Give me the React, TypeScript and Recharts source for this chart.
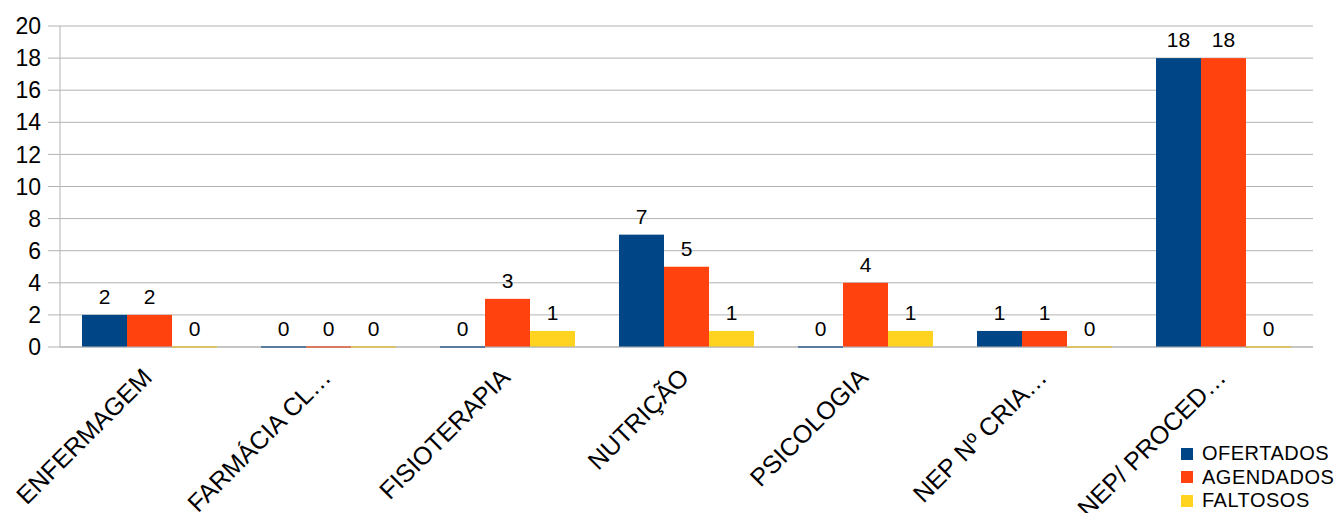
import React from "react";
import {
  BarChart,
  Bar,
  XAxis,
  YAxis,
  CartesianGrid,
  LabelList,
} from "recharts";

// ─── Data ────────────────────────────────────────────────────────────────────

const categories = [
  "ENFERMAGEM",
  "FARMÁCIA CL…",
  "FISIOTERAPIA",
  "NUTRIÇÃO",
  "PSICOLOGIA",
  "NEP Nº CRIA…",
  "NEP/ PROCED…",
];
const ofertados = [2, 0, 0, 7, 0, 1, 18];
const agendados = [2, 0, 3, 5, 4, 1, 18];
const faltosos = [0, 0, 1, 1, 1, 0, 0];
const yTicks = [0, 2, 4, 6, 8, 10, 12, 14, 16, 18, 20];
const boundaryTicks = [0, 1, 2, 3, 4, 5, 6, 7];

const SERIES = [
  { key: "OFERTADOS", color: "#004586" },
  { key: "AGENDADOS", color: "#ff420e" },
  { key: "FALTOSOS", color: "#ffd320" },
];

const data = categories.map((name, i) => ({
  name,
  OFERTADOS: ofertados[i],
  AGENDADOS: agendados[i],
  FALTOSOS: faltosos[i],
}));

const GRID = "#b3b3b3";
const FONT = "'Liberation Sans', Arial, sans-serif";

// ─── Pieces ──────────────────────────────────────────────────────────────────

// zero values still show as a thin line on the baseline
function makeShape(color: string) {
  return (props: any) => {
    const { x, y, width, height } = props;
    if (!height || height < 2) {
      return <rect x={x} y={y - 1} width={width} height={2} fill={color} />;
    }
    return <rect x={x} y={y} width={width} height={height} fill={color} />;
  };
}

function CategoryTick(props: any) {
  const { x, y, payload } = props;
  const ax = x + 4;
  const ay = y + 32;
  return (
    <text
      x={ax}
      y={ay}
      transform={`rotate(-45 ${ax} ${ay})`}
      textAnchor="end"
      fontSize={25}
      fontFamily={FONT}
      fill="#000"
    >
      {payload.value}
    </text>
  );
}

function LegendBox() {
  return (
    <div
      style={{
        position: "absolute",
        left: 1181,
        top: 442,
        fontFamily: FONT,
        fontSize: 20,
        color: "#000",
      }}
    >
      {SERIES.map((s) => (
        <div
          key={s.key}
          style={{ display: "flex", alignItems: "center", height: 23.5 }}
        >
          <span
            style={{
              width: 12,
              height: 12,
              background: s.color,
              marginRight: 9,
              display: "inline-block",
            }}
          />
          <span style={{ letterSpacing: 0.5, whiteSpace: "nowrap" }}>{s.key}</span>
        </div>
      ))}
    </div>
  );
}

// ─── Component ───────────────────────────────────────────────────────────────

export default function App() {
  return (
    <div
      style={{
        position: "absolute",
        left: 0,
        top: 0,
        width: 1334,
        height: 513,
        background: "#fff",
        overflow: "hidden",
      }}
    >
      <BarChart
        width={1334}
        height={513}
        data={data}
        margin={{ top: 26, right: 21, left: 0, bottom: 0 }}
        barCategoryGap={22}
        barGap={0}
      >
        <CartesianGrid horizontal vertical={false} stroke={GRID} />
        <XAxis
          xAxisId="bounds"
          type="number"
          domain={[0, 7]}
          ticks={boundaryTicks}
          allowDataOverflow
          tick={false}
          tickSize={10}
          tickLine={{ stroke: GRID }}
          axisLine={false}
          height={0}
        />
        <XAxis
          dataKey="name"
          interval={0}
          tickLine={false}
          tickSize={0}
          tickMargin={0}
          axisLine={{ stroke: GRID }}
          height={166}
          tick={<CategoryTick />}
        />
        <YAxis
          domain={[0, 20]}
          ticks={yTicks}
          interval={0}
          width={60}
          tickSize={12}
          tickMargin={7}
          tickLine={{ stroke: GRID }}
          axisLine={{ stroke: GRID }}
          tick={{ fontSize: 23, fontFamily: FONT, fill: "#000" }}
        />
        <YAxis
          yAxisId="right"
          orientation="right"
          domain={[0, 20]}
          width={0}
          tick={false}
          tickLine={false}
          axisLine={{ stroke: GRID }}
        />
        {SERIES.map((s) => (
          <Bar
            key={s.key}
            dataKey={s.key}
            fill={s.color}
            shape={makeShape(s.color)}
            isAnimationActive={false}
          >
            <LabelList
              dataKey={s.key}
              position="top"
              offset={11}
              fontSize={21}
              fontFamily={FONT}
              fill="#000"
            />
          </Bar>
        ))}
      </BarChart>
      <LegendBox />
    </div>
  );
}
